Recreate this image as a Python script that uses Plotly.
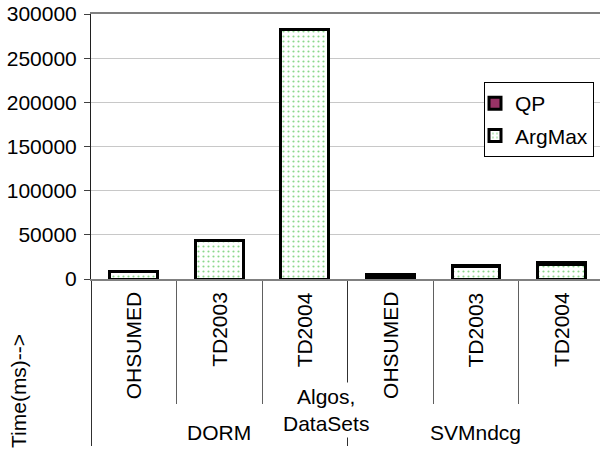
import plotly.graph_objects as go

# ---- data ----
datasets = ["OHSUMED", "TD2003", "TD2004", "OHSUMED", "TD2003", "TD2004"]
algos = ["DORM", "SVMndcg"]
argmax_ms = [8200, 43300, 282200, 1200, 13800, 16400]
qp_ms = [200, 300, 400, 3600, 1200, 2300]
y_ticks = [0, 50000, 100000, 150000, 200000, 250000, 300000]

FONT = "Arial, Liberation Sans, sans-serif"
FS = 21
xpos = list(range(len(datasets)))

fig = go.Figure()
fig.add_trace(go.Bar(
    x=xpos, y=argmax_ms, name="ArgMax", width=0.56, legendgroup="b", legendrank=2,
    marker=dict(color="white", line=dict(color="black", width=3),
                pattern=dict(shape=".", fgcolor="#18b018", bgcolor="white",
                             size=5, solidity=0.15)),
))
fig.add_trace(go.Bar(
    x=xpos, y=qp_ms, name="QP", width=0.56, legendgroup="a", legendrank=1,
    marker=dict(color="#993366", line=dict(color="black", width=3)),
))

annotations = []
for i, lab in enumerate(datasets):
    annotations.append(dict(x=i, y=0, xref="x", yref="paper", text=lab,
                            textangle=-90, showarrow=False, yanchor="top",
                            yshift=-11, font=dict(size=FS, color="black", family=FONT)))
for j, g in enumerate(algos):
    annotations.append(dict(x=1 + 3 * j, y=0, xref="x", yref="paper", text=g,
                            showarrow=False, yanchor="middle", yshift=-153,
                            font=dict(size=FS, color="black", family=FONT)))
annotations.append(dict(x=2.25, y=0, xref="x", yref="paper", text="Algos,<br>DataSets",
                        showarrow=False, yanchor="middle", yshift=-131,
                        bgcolor="white", borderpad=2,
                        font=dict(size=FS, color="black", family=FONT)))
annotations.append(dict(x=0, y=0, xref="paper", yref="paper", text="Time(ms)-->",
                        textangle=-90, showarrow=False, xanchor="center", yanchor="middle",
                        xshift=-73, yshift=-112, font=dict(size=FS, color="black", family=FONT)))

fig.update_layout(
    width=600, height=449,
    margin=dict(l=91, r=0, t=14, b=170, autoexpand=False),
    paper_bgcolor="white", plot_bgcolor="white",
    barmode="stack",
    font=dict(family=FONT, size=FS, color="black"),
    showlegend=True,
    legend=dict(x=(484 - 91) / 509, y=(279 - 82) / 265, xanchor="left", yanchor="top",
                bgcolor="white", bordercolor="black", borderwidth=1,
                traceorder="grouped", tracegroupgap=2, indentation=-10,
                font=dict(size=FS, family=FONT), itemwidth=30),
    annotations=annotations,
    xaxis=dict(range=[-0.5, 5.45], tickvals=[-0.5, 2.5, 5.5], ticktext=["", "", ""],
               ticks="outside", ticklen=165, tickcolor="#303030", tickwidth=1,
               minor=dict(tickvals=[0.5, 1.5, 3.5, 4.5], ticks="outside", ticklen=123,
                          tickcolor="#606060", tickwidth=1, showgrid=False),
               showgrid=False, zeroline=False, showline=True, linecolor="#808080",
               linewidth=2, mirror=True, fixedrange=True, automargin=False),
    yaxis=dict(range=[0, 300000], tickvals=y_ticks, ticktext=[str(v) for v in y_ticks],
               ticks="outside", ticklen=6, tickcolor="#404040", ticklabelstandoff=3,
               showgrid=True, gridcolor="#c8c8c8", gridwidth=1, zeroline=False,
               showline=True, linecolor="#202020", linewidth=1, automargin=False,
               fixedrange=True, tickfont=dict(size=FS, family=FONT, color="black")),
)

fig.write_html("out.html", config={"displayModeBar": False},
               post_script="document.body.style.margin='0';document.body.style.padding='0';")
